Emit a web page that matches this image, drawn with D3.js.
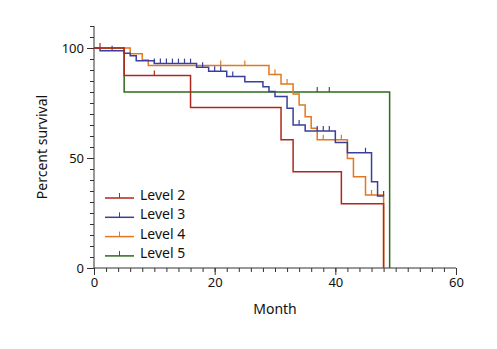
<!DOCTYPE html>
<html>
<head>
<meta charset="utf-8">
<script src="https://cdn.jsdelivr.net/npm/d3@7"></script>
<style>
  html, body { margin: 0; padding: 0; background: #fff; }
  svg text { font-family: "Noto Sans", "Open Sans", sans-serif; fill: #111; }
</style>
</head>
<body>
<div id="chartArea"></div>
<script>
// survival steps per group: time of each step and survival (%) from that time on
var levelNames = ["Level 2", "Level 3", "Level 4", "Level 5"];
var levelColors = ["#b0281c", "#3b3f9c", "#e2781f", "#2c6a1c"];

var level2Times = [0, 5, 16, 31, 33, 41, 48];
var level2Surv  = [100, 87.5, 72.9, 58.3, 43.8, 29.2, 0];
var level2Censor = [1, 10];

var level3Times = [0, 1, 5, 6, 7, 10, 17, 19, 22, 25, 28, 29, 30, 32, 33, 35, 40, 42, 46, 47, 48];
var level3Surv  = [100, 98.8, 97.6, 96.5, 94.2, 92.9, 91.2, 89.4, 87.0, 84.7, 82.4, 80.2, 77.9, 72.6, 65.0, 62.3, 57.1, 52.4, 39.2, 32.7, 32.7];
var level3Censor = [3, 10, 11, 12, 13, 14, 15, 16, 18, 20, 21, 23, 34, 37, 38, 39, 45, 48];

var level4Times = [0, 6, 8, 9, 29, 31, 33, 34, 35, 36, 37, 42, 43, 45, 48];
var level4Surv  = [100, 97.4, 94.5, 92.0, 88.0, 83.6, 79.1, 74.1, 68.8, 63.5, 58.3, 49.8, 41.5, 33.2, 0];
var level4Censor = [21, 25, 30, 32, 38, 41, 46];

var level5Times = [0, 5, 49];
var level5Surv  = [100, 80, 0];
var level5Censor = [37, 39];

var xTicks = [0, 20, 40, 60];
var yTicks = [0, 50, 100];

var groups = [
    { name: levelNames[0], color: levelColors[0], times: level2Times, surv: level2Surv, censor: level2Censor },
    { name: levelNames[1], color: levelColors[1], times: level3Times, surv: level3Surv, censor: level3Censor },
    { name: levelNames[2], color: levelColors[2], times: level4Times, surv: level4Surv, censor: level4Censor },
    { name: levelNames[3], color: levelColors[3], times: level5Times, surv: level5Surv, censor: level5Censor }
];

var width = 497, height = 349;

var svg = d3.select("#chartArea")
    .append("svg")
    .attr("width", width)
    .attr("height", height);

var x = d3.scaleLinear().domain([0, 60]).range([94, 456]);
var y = d3.scaleLinear().domain([0, 110]).range([268, 26]);

// axes: labelled major ticks plus minor ticks
var axisColor = "#333";
var xAxis = svg.append("g").attr("transform", "translate(0," + y(0) + ")");
xAxis.call(d3.axisBottom(x).tickValues(d3.range(0, 61, 2)).tickSize(4).tickFormat(""));
xAxis.call(function (g) {
    g.selectAll(".tick line").attr("stroke", axisColor);
    g.select(".domain").attr("stroke", axisColor).attr("d", "M" + x(0) + ",0H" + x(60));
});
var xMajor = svg.append("g").attr("transform", "translate(0," + y(0) + ")")
    .call(d3.axisBottom(x).tickValues(xTicks).tickSize(7).tickPadding(3));
xMajor.select(".domain").remove();
xMajor.selectAll(".tick line").attr("stroke", axisColor);
xMajor.selectAll(".tick text").attr("font-size", 13);

var yAxis = svg.append("g").attr("transform", "translate(" + x(0) + ",0)");
yAxis.call(d3.axisLeft(y).tickValues(d3.range(0, 111, 5)).tickSize(4).tickFormat(""));
yAxis.call(function (g) {
    g.selectAll(".tick line").attr("stroke", axisColor);
    g.select(".domain").attr("stroke", axisColor).attr("d", "M0," + y(110) + "V" + y(0));
});
var yMajor = svg.append("g").attr("transform", "translate(" + x(0) + ",0)")
    .call(d3.axisLeft(y).tickValues(yTicks).tickSize(7).tickPadding(3));
yMajor.select(".domain").remove();
yMajor.selectAll(".tick line").attr("stroke", axisColor);
yMajor.selectAll(".tick text").attr("font-size", 13);

svg.selectAll(".tick text").style("font-family", "\"Noto Sans\", sans-serif").attr("fill", "#111");

svg.append("text")
    .attr("x", (x(0) + x(60)) / 2)
    .attr("y", 314)
    .attr("text-anchor", "middle")
    .attr("font-size", 14)
    .text("Month");

svg.append("text")
    .attr("transform", "translate(47," + y(55) + ") rotate(-90)")
    .attr("text-anchor", "middle")
    .attr("font-size", 14)
    .text("Percent survival");

// survival curves, last group drawn first so Level 2 sits on top
var line = d3.line()
    .x(function (d) { return x(d[0]); })
    .y(function (d) { return y(d[1]); })
    .curve(d3.curveStepAfter);

var plot = svg.append("g");
groups.slice().reverse().forEach(function (g) {
    var pts = g.times.map(function (t, i) { return [t, g.surv[i]]; });
    plot.append("path")
        .attr("d", line(pts))
        .attr("fill", "none")
        .attr("stroke", g.color)
        .attr("stroke-width", 1.5);

    // censored observations: short upward ticks on the curve
    g.censor.forEach(function (t) {
        var idx = d3.bisectRight(g.times, t) - 1;
        var s = g.surv[Math.max(idx, 0)];
        plot.append("line")
            .attr("x1", x(t)).attr("x2", x(t))
            .attr("y1", y(s)).attr("y2", y(s) - 5)
            .attr("stroke", g.color)
            .attr("stroke-width", 1.2);
    });
});

// legend
var legend = svg.append("g").attr("transform", "translate(105,198)");
groups.forEach(function (g, i) {
    var row = legend.append("g").attr("transform", "translate(0," + (i * 19.3) + ")");
    row.append("line")
        .attr("x1", 0).attr("x2", 29)
        .attr("y1", 0).attr("y2", 0)
        .attr("stroke", g.color)
        .attr("stroke-width", 1.5);
    row.append("line")
        .attr("x1", 14.5).attr("x2", 14.5)
        .attr("y1", 0).attr("y2", -5)
        .attr("stroke", g.color)
        .attr("stroke-width", 1);
    row.append("text")
        .attr("x", 35)
        .attr("y", -3)
        .attr("dy", "0.35em")
        .attr("font-size", 14)
        .text(g.name);
});
</script>
</body>
</html>
